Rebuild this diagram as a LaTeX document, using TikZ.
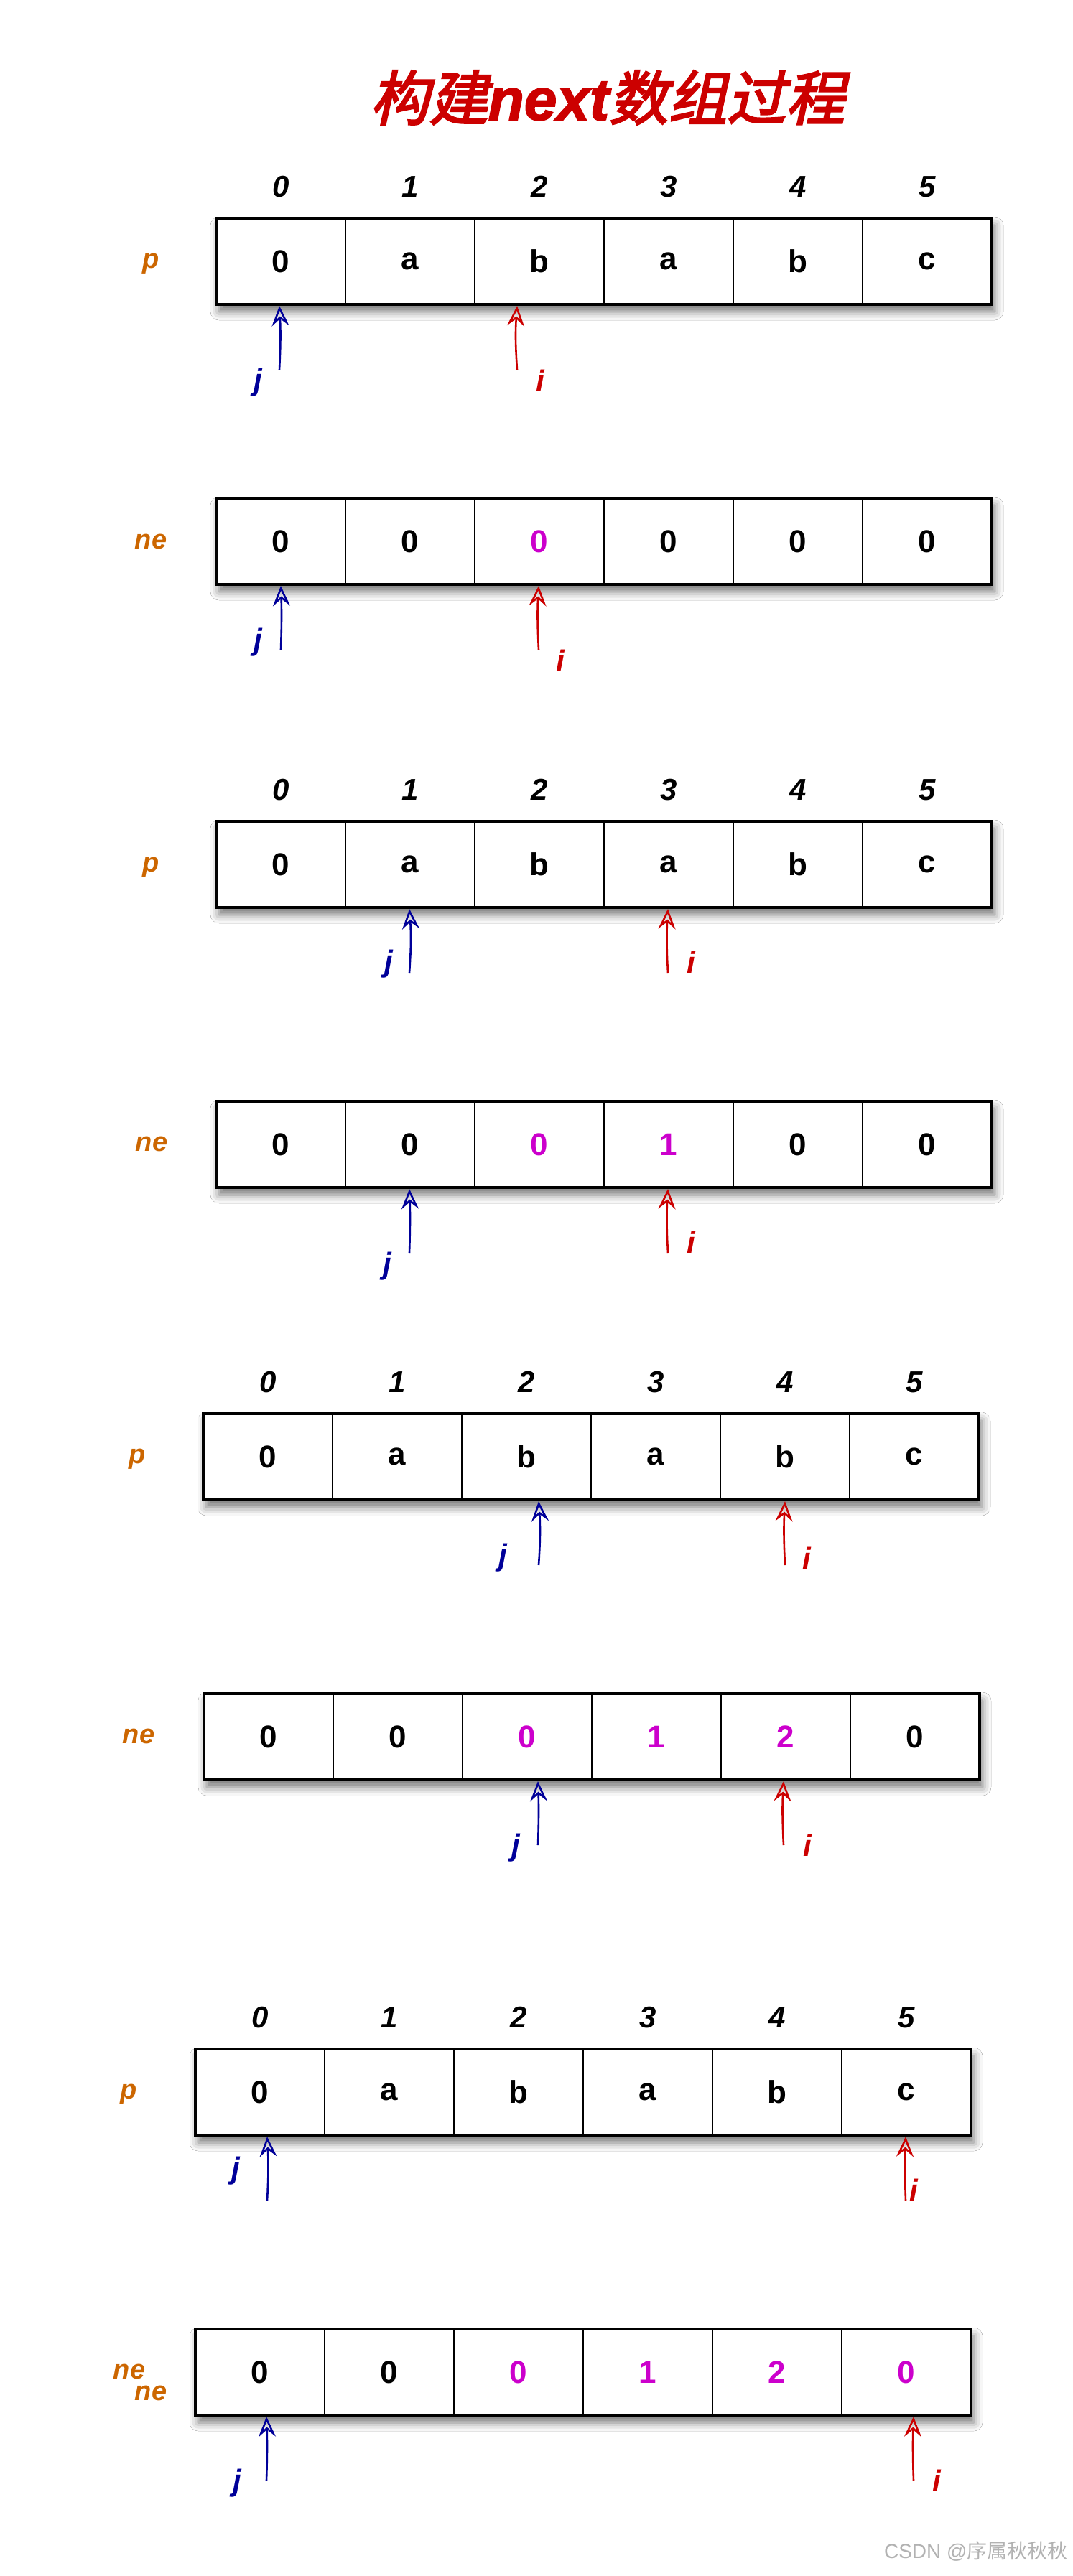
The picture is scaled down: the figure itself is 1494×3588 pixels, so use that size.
\documentclass[tikz,border=0pt]{standalone}
\usepackage{fontspec}
\setmainfont{Liberation Sans}
\newfontfamily\cjk{Noto Sans CJK SC}[FakeSlant=0.22,FakeBold=3]
\newfontfamily\titlelat{Liberation Sans}[BoldItalicFeatures={FakeBold=2}]
\newfontfamily\cjkwm{Noto Sans CJK SC}
\usetikzlibrary{arrows.meta,shadows.blur,positioning}
\definecolor{tred}{HTML}{CC0000}
\definecolor{jblue}{HTML}{000099}
\definecolor{lorange}{HTML}{CC6600}
\definecolor{mag}{HTML}{CC00CC}

\begin{document}
\begin{tikzpicture}[x=0.5pt,y=-0.5pt]

\tikzset{cell/.style={draw,line width=1pt,minimum width=90pt,minimum height=60pt,inner sep=0pt,font=\fontsize{22}{22}\selectfont\bfseries},
arrframe/.style={draw,line width=1.7pt,fill=white,minimum width=540pt,minimum height=60pt,inner sep=0pt,
  blur shadow={shadow xshift=2pt,shadow yshift=-5pt,shadow blur radius=6pt,shadow opacity=55}},
idx/.style={font=\fontsize{21}{21}\selectfont\bfseries\itshape,inner sep=0pt},
rowlbl/.style={font=\fontsize{19}{19}\selectfont\bfseries\itshape,text=lorange,inner sep=0pt},
jlbl/.style={font=\fontsize{21}{21}\selectfont\bfseries\itshape,text=jblue,inner sep=0pt},
ilbl/.style={font=\fontsize{21}{21}\selectfont\bfseries\itshape,text=tred,inner sep=0pt},
jarr/.style={draw=jblue,line width=1.3pt,-{Stealth[open,length=14pt,width=12pt,inset=5pt]}},
iarr/.style={draw=tred,line width=1.3pt,-{Stealth[open,length=14pt,width=12pt,inset=5pt]}}}

\useasboundingbox[fill=white] (0,0) rectangle (1494,3588);

% Title
\node[text=tred,font=\fontsize{41}{41}\selectfont,inner sep=0pt] (title) at (846,136) {{\cjk 构建}{\titlelat\bfseries\itshape next}{\cjk 数组过程}};

% row 1: p
\node[arrframe] (r1f) at (841,364) {};
\foreach \v [count=\c from 0] in {0,a,b,a,b,c} \node[cell] (r1c\c) at (391+180*\c,364) {\v};
\foreach \c in {0,...,5} \node[idx] (r1i\c) at (391+180*\c,260) {\c};
\node[rowlbl] (r1n) at (210,367) {p};
\coordinate (r1jt) at (389,515); \coordinate (r1jh) at (389,426);
\coordinate (r1it) at (720,515); \coordinate (r1ih) at (720,426);
\draw[jarr] (r1jt) to[bend right=3] (r1jh);
\draw[iarr] (r1it) to[bend left=4] (r1ih);
\node[jlbl] (r1j) at (359,533) {j};
\node[ilbl] (r1i) at (752,530) {i};

% row 2: ne
\node[arrframe] (r2f) at (841,754) {};
\foreach \v/\col [count=\c from 0] in {0/black,0/black,0/mag,0/black,0/black,0/black} \node[cell,text=\col] (r2c\c) at (391+180*\c,754) {\v};
\node[rowlbl] (r2n) at (210,754) {ne};
\coordinate (r2jt) at (391,905); \coordinate (r2jh) at (391,816);
\coordinate (r2it) at (750,905); \coordinate (r2ih) at (750,816);
\draw[jarr] (r2jt) to[bend right=2] (r2jh);
\draw[iarr] (r2it) to[bend left=3] (r2ih);
\node[jlbl] (r2j) at (359,895) {j};
\node[ilbl] (r2i) at (780,920) {i};

% row 3: p
\node[arrframe] (r3f) at (841,1204) {};
\foreach \v [count=\c from 0] in {0,a,b,a,b,c} \node[cell] (r3c\c) at (391+180*\c,1204) {\v};
\foreach \c in {0,...,5} \node[idx] (r3i\c) at (391+180*\c,1100) {\c};
\node[rowlbl] (r3n) at (210,1208) {p};
\coordinate (r3jt) at (570,1355); \coordinate (r3jh) at (570,1266);
\coordinate (r3it) at (930,1355); \coordinate (r3ih) at (930,1266);
\draw[jarr] (r3jt) to[bend right=4] (r3jh);
\draw[iarr] (r3it) to[bend left=3] (r3ih);
\node[jlbl] (r3j) at (541,1343) {j};
\node[ilbl] (r3i) at (962,1340) {i};

% row 4: ne
\node[arrframe] (r4f) at (841,1594) {};
\foreach \v/\col [count=\c from 0] in {0/black,0/black,0/mag,1/mag,0/black,0/black} \node[cell,text=\col] (r4c\c) at (391+180*\c,1594) {\v};
\node[rowlbl] (r4n) at (211,1593) {ne};
\coordinate (r4jt) at (570,1745); \coordinate (r4jh) at (570,1656);
\coordinate (r4it) at (930,1745); \coordinate (r4ih) at (930,1656);
\draw[jarr] (r4jt) to[bend right=2] (r4jh);
\draw[iarr] (r4it) to[bend left=3] (r4ih);
\node[jlbl] (r4j) at (539,1764) {j};
\node[ilbl] (r4i) at (962,1730) {i};

% row 5: p
\node[arrframe] (r5f) at (823,2029) {};
\foreach \v [count=\c from 0] in {0,a,b,a,b,c} \node[cell] (r5c\c) at (373+180*\c,2029) {\v};
\foreach \c in {0,...,5} \node[idx] (r5i\c) at (373+180*\c,1925) {\c};
\node[rowlbl] (r5n) at (191,2032) {p};
\coordinate (r5jt) at (750,2180); \coordinate (r5jh) at (750,2091);
\coordinate (r5it) at (1093,2180); \coordinate (r5ih) at (1093,2091);
\draw[jarr] (r5jt) to[bend right=4] (r5jh);
\draw[iarr] (r5it) to[bend left=3] (r5ih);
\node[jlbl] (r5j) at (700,2170) {j};
\node[ilbl] (r5i) at (1123,2170) {i};

% row 6: ne
\node[arrframe] (r6f) at (824,2419) {};
\foreach \v/\col [count=\c from 0] in {0/black,0/black,0/mag,1/mag,2/mag,0/black} \node[cell,text=\col] (r6c\c) at (374+180*\c,2419) {\v};
\node[rowlbl] (r6n) at (193,2418) {ne};
\coordinate (r6jt) at (749,2570); \coordinate (r6jh) at (749,2481);
\coordinate (r6it) at (1091,2570); \coordinate (r6ih) at (1091,2481);
\draw[jarr] (r6jt) to[bend right=2] (r6jh);
\draw[iarr] (r6it) to[bend left=3] (r6ih);
\node[jlbl] (r6j) at (718,2574) {j};
\node[ilbl] (r6i) at (1124,2570) {i};

% row 7: p
\node[arrframe] (r7f) at (812,2914) {};
\foreach \v [count=\c from 0] in {0,a,b,a,b,c} \node[cell] (r7c\c) at (362+180*\c,2914) {\v};
\foreach \c in {0,...,5} \node[idx] (r7i\c) at (362+180*\c,2810) {\c};
\node[rowlbl] (r7n) at (179,2917) {p};
\coordinate (r7jt) at (372,3065); \coordinate (r7jh) at (372,2976);
\coordinate (r7it) at (1261,3065); \coordinate (r7ih) at (1261,2976);
\draw[jarr] (r7jt) to[bend right=3] (r7jh);
\draw[iarr] (r7it) to[bend left=2] (r7ih);
\node[jlbl] (r7j) at (328,3024) {j};
\node[ilbl] (r7i) at (1272,3050) {i};

% row 8: ne
\node[arrframe] (r8f) at (812,3304) {};
\foreach \v/\col [count=\c from 0] in {0/black,0/black,0/mag,1/mag,2/mag,0/mag} \node[cell,text=\col] (r8c\c) at (362+180*\c,3304) {\v};
\node[rowlbl] (r8n) at (180,3303) {ne};
\node[rowlbl] (r8m) at (210,3333) {ne};
\coordinate (r8jt) at (371,3455); \coordinate (r8jh) at (371,3366);
\coordinate (r8it) at (1272,3455); \coordinate (r8ih) at (1272,3366);
\draw[jarr] (r8jt) to[bend right=2] (r8jh);
\draw[iarr] (r8it) to[bend left=2] (r8ih);
\node[jlbl] (r8j) at (330,3459) {j};
\node[ilbl] (r8i) at (1304,3455) {i};

% watermark
\node[text=black!30,font=\fontsize{14}{14}\selectfont,inner sep=0pt,anchor=east] (wm) at (1487,3554) {CSDN @{\cjkwm 序属秋秋秋}};

\end{tikzpicture}
\end{document}
